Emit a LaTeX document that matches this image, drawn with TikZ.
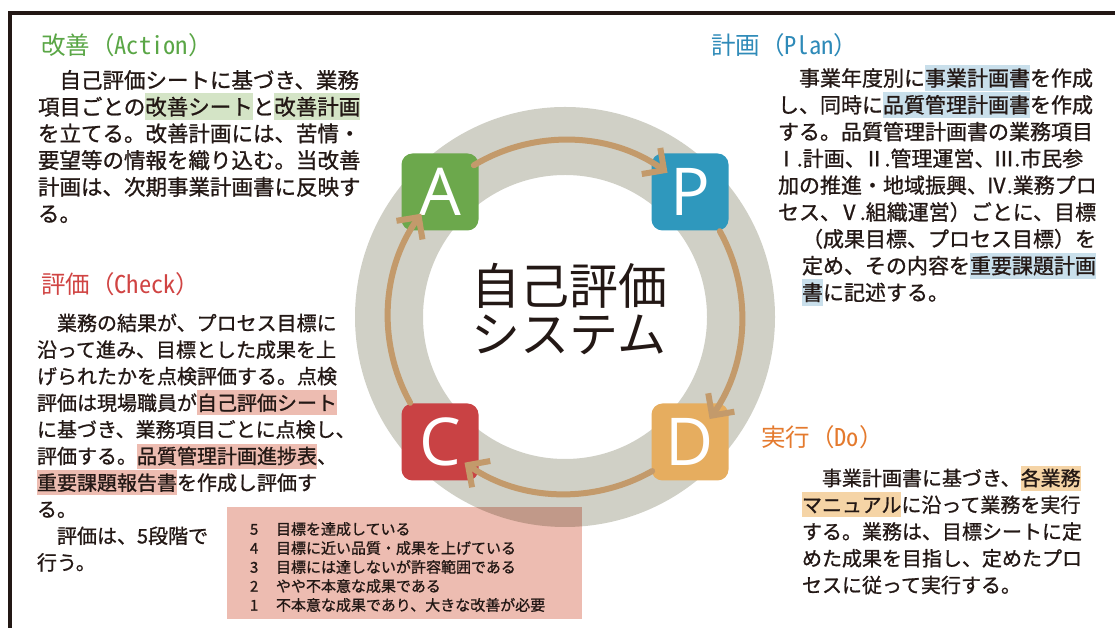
\documentclass[tikz,border=0pt]{standalone}
\usepackage{fontspec}
\setmainfont{Noto Sans CJK JP}
\newfontfamily\bodyfont{Noto Sans CJK JP}[FakeBold=1]
\newfontfamily\letterfont{Open Sans}
\usetikzlibrary{arrows.meta,calc}
\definecolor{ink}{HTML}{231815}
\definecolor{ringgray}{HTML}{D0D0C6}
\definecolor{arrowbrown}{HTML}{C39A6B}
\definecolor{cA}{HTML}{6CA84C}
\definecolor{cP}{HTML}{2F98BD}
\definecolor{cC}{HTML}{C94244}
\definecolor{cD}{HTML}{E6AD5F}
\definecolor{hA}{HTML}{5AA646}
\definecolor{hP}{HTML}{2E8AB8}
\definecolor{hC}{HTML}{D04443}
\definecolor{hD}{HTML}{E47A2E}
\definecolor{hlgreen}{HTML}{D4E4C6}
\definecolor{hlblue}{HTML}{C9DFEB}
\definecolor{hlpink}{HTML}{EDBCB1}
\definecolor{hlorange}{HTML}{F5D4A6}
\newcommand\hilite[2]{{\setlength{\fboxsep}{0pt}\colorbox{#1}{\rule[-0.25em]{0pt}{1.25em}#2}}}
\newcommand\rn[1]{\makebox[0.9em][r]{#1}}
\newcommand\hw[1]{{\addfontfeatures{RawFeature=+hwid}#1}}
\begin{document}
\begin{tikzpicture}[x=1pt,y=1pt,
  tx/.style={inner sep=0pt, outer sep=0pt, anchor=base west, text=ink},
  fA/.style={font=\bodyfont\fontsize{21.5}{26}\selectfont},
  fC/.style={font=\bodyfont\fontsize{20}{26}\selectfont},
  fP/.style={font=\bodyfont\fontsize{21}{26}\selectfont},
  fT/.style={font=\bodyfont\fontsize{15}{19}\selectfont},
  head/.style={inner sep=0pt, outer sep=0pt, anchor=base west, font=\fontsize{24.5}{28}\selectfont},
  pdca/.style={minimum size=77pt, inner sep=0pt, rounded corners=11pt, text=white,
    font=\letterfont\fontsize{66}{66}\selectfont},
  cyc/.style={draw=arrowbrown, line width=6pt, line cap=round,
    -{Straight Barb[length=16pt, width=32pt]}},
  frame/.style={draw=ink, line width=3.5pt},
  bigtext/.style={inner sep=0pt, anchor=base, text=ink, font=\fontsize{49}{52}\selectfont}]
\useasboundingbox (0,0) rectangle (1115,628);
% frame
\coordinate (fbl) at (10,-2);
\coordinate (ftl) at (10,615);
\coordinate (ftr) at (1117,615);
\draw[frame] (fbl) -- (ftl) -- (ftr);
% ring
\coordinate (c0) at (565,311);
\draw[draw=ringgray, line width=68pt] (c0) circle[radius=176];
% table box
\node[fill=hlpink, blend mode=multiply, minimum width=355pt, minimum height=112pt,
  inner sep=0pt, anchor=south west] (tbl) at (227,9) {};
% PDCA boxes
\node[pdca, fill=cA] (A) at ($(c0)+(-125,125)$) {A};
\node[pdca, fill=cP] (P) at ($(c0)+(125,125)$) {P};
\node[pdca, fill=cC] (C) at ($(c0)+(-125,-125)$) {C};
\node[pdca, fill=cD] (D) at ($(c0)+(125,-125)$) {D};
% cycle arrows
\coordinate (apS) at ($(c0)+(121:177)$);
\coordinate (pdS) at ($(c0)+(29:177)$);
\coordinate (dcS) at ($(c0)+(-60.5:177)$);
\coordinate (caS) at ($(c0)+(209:177)$);
\draw[cyc] (apS) arc[start angle=121, end angle=54.6, radius=177];
\draw[cyc] (pdS) arc[start angle=29, end angle=-35.2, radius=177];
\draw[cyc] (dcS) arc[start angle=-60.5, end angle=-124.6, radius=177];
\draw[cyc] (caS) arc[start angle=209, end angle=144.3, radius=177];
% centre text
\node[bigtext] (sys1) at (569,323) {自己評価};
\node[bigtext] (sys2) at (569,275) {システム};
% Action
\node[head, text=hA] (hAct) at (41,573) {改善（\hw{Action}）};
\node[tx, fA] (a1) at (38,539.8) {　自己評価シートに基づき、業務};
\node[tx, fA] (a2) at (38,513.1) {項目ごとの\hilite{hlgreen}{改善シート}と\hilite{hlgreen}{改善計画}};
\node[tx, fA] (a3) at (38,486.4) {を立てる。改善計画には、苦情・};
\node[tx, fA] (a4) at (38,459.7) {要望等の情報を織り込む。当改善};
\node[tx, fA] (a5) at (38,433) {計画は、次期事業計画書に反映す};
\node[tx, fA] (a6) at (38,406.3) {る。};
% Check
\node[head, text=hC] (hChk) at (41,334) {評価（\hw{Check}）};
\node[tx, fC] (c1) at (37,297.4) {　業務の結果が、プロセス目標に};
\node[tx, fC] (c2) at (37,270.8) {沿って進み、目標とした成果を上};
\node[tx, fC] (c3) at (37,244.2) {げられたかを点検評価する。点検};
\node[tx, fC] (c4) at (37,217.6) {評価は現場職員が\hilite{hlpink}{自己評価シート}};
\node[tx, fC] (c5) at (37,191) {に基づき、業務項目ごとに点検し、};
\node[tx, fC] (c6) at (37,164.4) {評価する。\hilite{hlpink}{品質管理計画進捗表}、};
\node[tx, fC] (c7) at (37,137.8) {\hilite{hlpink}{重要課題報告書}を作成し評価す};
\node[tx, fC] (c8) at (37,111.2) {る。};
\node[tx, fC] (c9) at (37,84.6) {　評価は、5段階で};
\node[tx, fC] (c10) at (37,58) {行う。};
% Plan
\node[head, text=hP] (hPln) at (711,573) {計画（\hw{Plan}）};
\node[tx, fP] (p1) at (778,542) {　事業年度別に\hilite{hlblue}{事業計画書}を作成};
\node[tx, fP] (p2) at (778,515.2) {し、同時に\hilite{hlblue}{品質管理計画書}を作成};
\node[tx, fP] (p3) at (778,488.4) {する。品質管理計画書の業務項目};
\node[tx, fP] (p4) at (778,461.6) {\rn{Ⅰ}.計画、\rn{Ⅱ}.管理運営、\rn{Ⅲ}.市民参};
\node[tx, fP] (p5) at (778,434.8) {加の推進・地域振興、\rn{Ⅳ}.業務プロ};
\node[tx, fP] (p6) at (778,408) {セス、\rn{Ⅴ}.組織運営）ごとに、目標};
\node[tx, fP] (p7) at (802,381.2) {（成果目標、プロセス目標）を};
\node[tx, fP] (p8) at (802,354.4) {定め、その内容を\hilite{hlblue}{重要課題計画}};
\node[tx, fP] (p9) at (802,327.6) {\hilite{hlblue}{書}に記述する。};
% Do
\node[head, text=hD] (hDo) at (761,181) {実行（\hw{Do}）};
\node[tx, fC] (d1) at (802,142.4) {　事業計画書に基づき、\hilite{hlorange}{各業務}};
\node[tx, fC] (d2) at (802,115.65) {\hilite{hlorange}{マニュアル}に沿って業務を実行};
\node[tx, fC] (d3) at (802,88.9) {する。業務は、目標シートに定};
\node[tx, fC] (d4) at (802,62.15) {めた成果を目指し、定めたプロ};
\node[tx, fC] (d5) at (802,35.4) {セスに従って実行する。};
% table
\node[tx, fT] (t5n) at (250,93.3) {5};
\node[tx, fT] (t5) at (276,93.3) {目標を達成している};
\node[tx, fT] (t4n) at (250,74.3) {4};
\node[tx, fT] (t4) at (276,74.3) {目標に近い品質・成果を上げている};
\node[tx, fT] (t3n) at (250,55.3) {3};
\node[tx, fT] (t3) at (276,55.3) {目標には達しないが許容範囲である};
\node[tx, fT] (t2n) at (250,36.3) {2};
\node[tx, fT] (t2) at (276,36.3) {やや不本意な成果である};
\node[tx, fT] (t1n) at (250,17.3) {1};
\node[tx, fT] (t1) at (276,17.3) {不本意な成果であり、大きな改善が必要};
\end{tikzpicture}
\end{document}
